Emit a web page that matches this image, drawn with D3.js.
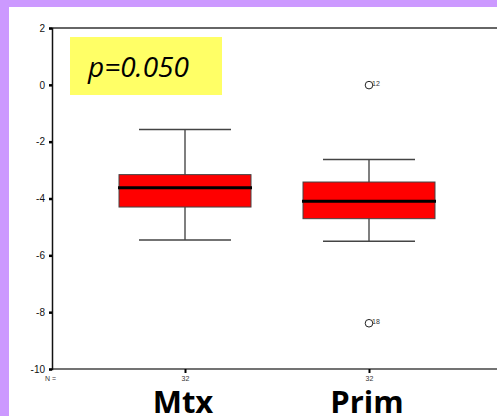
<!DOCTYPE html>
<html>
<head>
<meta charset="utf-8">
<script src="https://cdn.jsdelivr.net/npm/d3@7"></script>
<style>
  body { margin: 0; background: #cc99ff; }
  svg { display: block; }
</style>
</head>
<body>
<div id="canvas"></div>
<script>
// Data
let categories = ['Mtx', 'Prim']
let counts = [32, 32]
let whiskerLow = [-5.46, -5.50]
let q1 = [-4.30, -4.71]
let median = [-3.62, -4.10]
let q3 = [-3.16, -3.42]
let whiskerHigh = [-1.57, -2.63]
let outlierGroup = ['Prim', 'Prim']
let outlierValue = [-0.01, -8.39]
let outlierCase = ['12', '18']
let yTicks = [2, 0, -2, -4, -6, -8, -10]
let pLabel = 'p=0.050'

let width = 497, height = 416

let svg = d3.select('#canvas')
    .append('svg')
    .attr('width', width)
    .attr('height', height)

// purple page with the white slide panel
svg.append('rect')
    .attr('width', width).attr('height', height)
    .attr('fill', '#cc99ff')
svg.append('rect')
    .attr('x', 9).attr('y', 7)
    .attr('width', width - 9).attr('height', height - 7)
    .attr('fill', '#ffffff')

// scales
let y = d3.scaleLinear().domain([-10, 2]).range([369, 28])
let x = d3.scalePoint().domain(categories).range([185, 369])
let boxW = 132, capW = 92
let left = 52

// frame: top line and bottom axis line
svg.append('line')
    .attr('x1', left).attr('x2', width)
    .attr('y1', y(2)).attr('y2', y(2))
    .attr('stroke', '#666').attr('stroke-width', 2)
svg.append('line')
    .attr('x1', left).attr('x2', width)
    .attr('y1', y(-10)).attr('y2', y(-10))
    .attr('stroke', '#444').attr('stroke-width', 1.5)

// y axis - plain hyphen for the minus like the original
let yAxis = svg.append('g')
    .attr('transform', `translate(${left},0)`)
    .call(d3.axisLeft(y).tickValues(yTicks).tickSize(3).tickPadding(4).tickFormat(d => String(d)))
yAxis.select('.domain').attr('stroke', '#111').attr('stroke-width', 1.5)
yAxis.selectAll('.tick line').attr('stroke', '#000').attr('stroke-width', 2.5)
yAxis.selectAll('.tick text')
    .attr('font-family', 'Liberation Sans, Arial, sans-serif')
    .attr('font-size', 10)
    .attr('fill', '#111')

// x axis ticks and N labels
let xAxis = svg.append('g')
    .attr('transform', `translate(0,${y(-10)})`)
    .call(d3.axisBottom(x).tickSize(4).tickFormat((d, i) => counts[i]).tickPadding(3))
xAxis.select('.domain').remove()
xAxis.selectAll('.tick line').attr('stroke', '#000').attr('stroke-width', 2)
xAxis.selectAll('.tick text')
    .attr('font-family', 'Liberation Sans, Arial, sans-serif')
    .attr('font-size', 7)
    .attr('fill', '#333')

svg.append('text')
    .attr('x', 45).attr('y', 381)
    .attr('font-family', 'Liberation Sans, Arial, sans-serif')
    .attr('font-size', 7)
    .attr('fill', '#333')
    .text('N =')

// boxes
let groups = svg.selectAll('g.box')
    .data(categories)
    .enter()
    .append('g')
    .attr('class', 'box')

// whisker stems
groups.append('line')
    .attr('x1', d => x(d)).attr('x2', d => x(d))
    .attr('y1', (d, i) => y(whiskerHigh[i])).attr('y2', (d, i) => y(whiskerLow[i]))
    .attr('stroke', '#555').attr('stroke-width', 1.5)

// whisker caps
groups.append('line')
    .attr('x1', d => x(d) - capW / 2).attr('x2', d => x(d) + capW / 2)
    .attr('y1', (d, i) => y(whiskerHigh[i])).attr('y2', (d, i) => y(whiskerHigh[i]))
    .attr('stroke', '#444').attr('stroke-width', 1.5)
groups.append('line')
    .attr('x1', d => x(d) - capW / 2).attr('x2', d => x(d) + capW / 2)
    .attr('y1', (d, i) => y(whiskerLow[i])).attr('y2', (d, i) => y(whiskerLow[i]))
    .attr('stroke', '#444').attr('stroke-width', 1.5)

// red box
groups.append('rect')
    .attr('x', d => x(d) - boxW / 2)
    .attr('width', boxW)
    .attr('y', (d, i) => y(q3[i]))
    .attr('height', (d, i) => y(q1[i]) - y(q3[i]))
    .attr('fill', '#ff0000')
    .attr('stroke', '#444').attr('stroke-width', 1)

// median
groups.append('line')
    .attr('x1', d => x(d) - boxW / 2 - 1).attr('x2', d => x(d) + boxW / 2 + 1)
    .attr('y1', (d, i) => y(median[i])).attr('y2', (d, i) => y(median[i]))
    .attr('stroke', '#000').attr('stroke-width', 3)

// outliers
svg.selectAll('circle.out')
    .data(outlierValue)
    .enter()
    .append('circle')
    .attr('class', 'out')
    .attr('cx', (d, i) => x(outlierGroup[i]))
    .attr('cy', d => y(d))
    .attr('r', 3.8)
    .attr('fill', 'none')
    .attr('stroke', '#222').attr('stroke-width', 1)

svg.selectAll('text.case')
    .data(outlierValue)
    .enter()
    .append('text')
    .attr('class', 'case')
    .attr('x', (d, i) => x(outlierGroup[i]) + 3)
    .attr('y', d => y(d) + 1)
    .attr('font-family', 'Liberation Sans, Arial, sans-serif')
    .attr('font-size', 7)
    .attr('fill', '#333')
    .text((d, i) => outlierCase[i])

// p value label on yellow
svg.append('rect')
    .attr('x', 70).attr('y', 37)
    .attr('width', 152).attr('height', 58)
    .attr('fill', '#ffff66')
svg.append('text')
    .attr('x', 88).attr('y', 77)
    .attr('font-family', 'Open Sans, sans-serif')
    .attr('font-style', 'italic')
    .attr('font-size', 28)
    .attr('fill', '#000')
    .text(pLabel)

// big category labels
svg.selectAll('text.cat')
    .data(categories)
    .enter()
    .append('text')
    .attr('class', 'cat')
    .attr('x', d => x(d) - 2)
    .attr('y', 413)
    .attr('text-anchor', 'middle')
    .attr('font-family', 'Open Sans, sans-serif')
    .attr('font-weight', 'bold')
    .attr('font-size', 31)
    .attr('fill', '#000')
    .text(d => d)
</script>
</body>
</html>
